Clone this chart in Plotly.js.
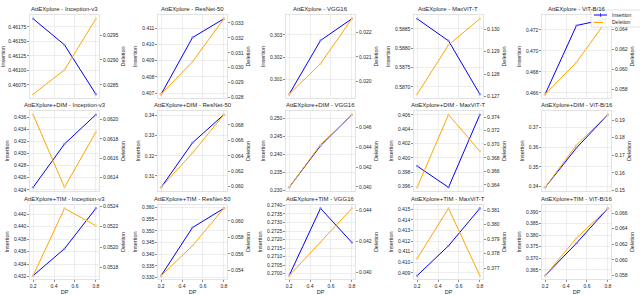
<!DOCTYPE html>
<html><head><meta charset="utf-8">
<script src="https://cdn.plot.ly/plotly-3.0.1.min.js"></script>
<style>html,body{margin:0;padding:0;background:#fff}#chart{width:640px;height:296px}</style>
</head><body><div id="chart"></div>
<script>
const dp = [0.2, 0.5, 0.8];
const titles = [
  'AttEXplore - Inception-v3','AttEXplore - ResNet-50','AttEXplore - VGG16','AttEXplore - MaxViT-T','AttEXplore - ViT-B/16',
  'AttEXplore+DIM - Inception-v3','AttEXplore+DIM - ResNet-50','AttEXplore+DIM - VGG16','AttEXplore+DIM - MaxViT-T','AttEXplore+DIM - ViT-B/16',
  'AttEXplore+TIM - Inception-v3','AttEXplore+TIM - ResNet-50','AttEXplore+TIM - VGG16','AttEXplore+TIM - MaxViT-T','AttEXplore+TIM - ViT-B/16'
];
const insertion = [
  [0.46189, 0.46144, 0.46059],
  [0.40693, 0.41043, 0.41159],
  [0.30035, 0.30275, 0.30372],
  [0.58876, 0.58819, 0.58681],
  [0.46586, 0.47243, 0.47307],
  [0.4244, 0.4316, 0.43646],
  [0.30432, 0.32645, 0.3404],
  [0.2308, 0.24236, 0.25099],
  [0.39884, 0.39585, 0.40605],
  [0.33963, 0.35963, 0.37645],
  [0.43215, 0.43646, 0.44292],
  [0.33083, 0.35139, 0.35958],
  [0.26988, 0.27383, 0.27183],
  [0.40873, 0.41155, 0.41509],
  [0.3625, 0.3765, 0.3915]
];
const deletion = [
  [0.02831, 0.02880, 0.02983],
  [0.02822, 0.0304, 0.03328],
  [0.01946, 0.02072, 0.02257],
  [0.1271, 0.1293, 0.13047],
  [0.05752, 0.0607, 0.06504],
  [0.06205, 0.0613, 0.06187],
  [0.05992, 0.06438, 0.06932],
  [0.03996, 0.04425, 0.04727],
  [0.36363, 0.37437, 0.36896],
  [0.15167, 0.17583, 0.19313],
  [0.05172, 0.05238, 0.05221],
  [0.05335, 0.05698, 0.06151],
  [0.0398, 0.04194, 0.04412],
  [0.37766, 0.38113, 0.37648],
  [0.058, 0.0628, 0.0666]
];
const seriesNames = ['Insertion', 'Deletion'];
// tick step and decimals for each panel's axes
const insTickStep = [0.00025,0.001,0.001,0.0005,0.002, 0.002,0.01,0.005,0.002,0.01, 0.002,0.005,0.0005,0.001,0.005];
const insTickDec  = [5,3,3,4,3, 3,2,3,3,2, 3,3,4,3,3];
const delTickStep = [0.0005,0.001,0.001,0.001,0.002, 0.0002,0.002,0.002,0.002,0.01, 0.0002,0.002,0.002,0.001,0.002];
const delTickDec  = [4,3,3,3,3, 4,3,3,3,2, 4,3,3,3,3];
const xTicks = [0.2, 0.4, 0.6, 0.8];

const W = 640, H = 296;
const colL = [30, 158, 286, 414, 542], pw = 69;
const rowT = [15, 111, 205], rowH = [83, 80, 74];
const BLUE = '#0000ff', ORANGE = '#ffa500';
const FONT = 'Liberation Sans, Arial, sans-serif';
const TXT = '#262626';
const gridC = '#e3e3e3', lineC = '#cfcfcf';

function rng(a){const mn=Math.min(...a),mx=Math.max(...a),d=mx-mn;return [mn-0.05*d,mx+0.05*d];}
const px = v => v/W, py = v => 1 - v/H;

const data = [];
const layout = {
  width: W, height: H, margin:{l:0,r:0,t:0,b:0}, paper_bgcolor:'#fff', plot_bgcolor:'#fff',
  showlegend:false, font:{family:FONT,size:5,color:TXT},
  annotations:[], shapes:[]
};
const tf = {size:5,family:FONT,color:TXT};
const af = {size:5.5,family:FONT,color:TXT};
for (let i=0;i<15;i++){
  const r=Math.floor(i/5), c=i%5;
  const xd=[px(colL[c]),px(colL[c]+pw)];
  const yd=[py(rowT[r]+rowH[r]), py(rowT[r])];
  const xn=i+1, yl=2*i+1, yr=2*i+2;
  const xs=(xn===1?'':xn), yls=(yl===1?'':yl);
  const bottom = r===2;
  layout['xaxis'+xs]={domain:xd, anchor:'y'+yls, range:[0.17,0.83], tickvals:xTicks, ticktext:xTicks.map(v=>v.toFixed(1)),
    showticklabels:bottom, ticks:bottom?'outside':'', ticklen:2, tickwidth:0.6, tickcolor:'#444', tickfont:tf,
    showgrid:true, gridcolor:gridC, gridwidth:0.6, showline:true, linecolor:lineC, linewidth:0.6, mirror:true, zeroline:false,
    automargin:false, title: bottom?{text:'DP', font:af, standoff:2}:{text:''}};
  layout['yaxis'+yls]={domain:yd, anchor:'x'+xs, range:rng(insertion[i]), dtick:insTickStep[i], tick0:0,
    tickformat:'.'+insTickDec[i]+'f', ticks:'outside', ticklen:2, tickwidth:0.6, tickcolor:'#444', tickfont:tf,
    showgrid:true, gridcolor:gridC, gridwidth:0.6, showline:true, linecolor:lineC, linewidth:0.6, mirror:true, zeroline:false,
    automargin:false, title:{text:seriesNames[0], font:af, standoff:3}};
  layout['yaxis'+yr]={overlaying:'y'+yls, side:'right', anchor:'x'+xs, range:rng(deletion[i]), dtick:delTickStep[i], tick0:0,
    tickformat:'.'+delTickDec[i]+'f', ticks:'outside', ticklen:2, tickwidth:0.6, tickcolor:'#444', tickfont:tf,
    showgrid:false, showline:false, zeroline:false, automargin:false,
    title:{text:seriesNames[1], font:af, standoff:3}};
  data.push({x:dp, y:insertion[i], xaxis:'x'+xs, yaxis:'y'+yls, mode:'lines+markers', line:{color:BLUE,width:1},
    marker:{color:'rgba(130,130,255,0.85)',size:2.5}, hoverinfo:'skip', cliponaxis:false});
  data.push({x:dp, y:deletion[i], xaxis:'x'+xs, yaxis:'y'+yr, mode:'lines+markers', line:{color:ORANGE,width:1},
    marker:{color:'rgba(255,205,130,0.85)',size:2.5}, hoverinfo:'skip', cliponaxis:false});
  layout.annotations.push({text:titles[i], xref:'paper', yref:'paper', x:(xd[0]+xd[1])/2, y:yd[1], yshift:1,
    xanchor:'center', yanchor:'bottom', showarrow:false, font:{size:6,family:FONT,color:TXT}});
}
// legend box (decoration, top-right of the first-row last panel)
const lg = {x0:591, x1:641, y0:10, y1:27};
const ly = [15, 22.5];
layout.shapes.push({type:'rect', xref:'paper', yref:'paper', x0:px(lg.x0), x1:px(lg.x1), y0:py(lg.y1), y1:py(lg.y0),
  fillcolor:'rgba(255,255,255,0.92)', line:{color:'#cccccc', width:0.6}, layer:'above'});
layout.shapes.push({type:'line', xref:'paper', yref:'paper', x0:px(594), x1:px(607), y0:py(ly[0]), y1:py(ly[0]), line:{color:BLUE,width:1}, layer:'above'});
layout.shapes.push({type:'line', xref:'paper', yref:'paper', x0:px(600.5), x1:px(600.5), y0:py(ly[0]-1.8), y1:py(ly[0]+1.8), line:{color:BLUE,width:0.7}, layer:'above'});
layout.shapes.push({type:'line', xref:'paper', yref:'paper', x0:px(594), x1:px(607), y0:py(ly[1]), y1:py(ly[1]), line:{color:ORANGE,width:1,dash:'dash'}, layer:'above'});
seriesNames.forEach((n,k)=>layout.annotations.push({text:n, xref:'paper', yref:'paper', x:px(609.5), y:py(ly[k]),
  xanchor:'left', yanchor:'middle', showarrow:false, font:{size:5,family:FONT,color:TXT}}));

Plotly.newPlot('chart', data, layout, {staticPlot:true, displayModeBar:false});
</script></body></html>
